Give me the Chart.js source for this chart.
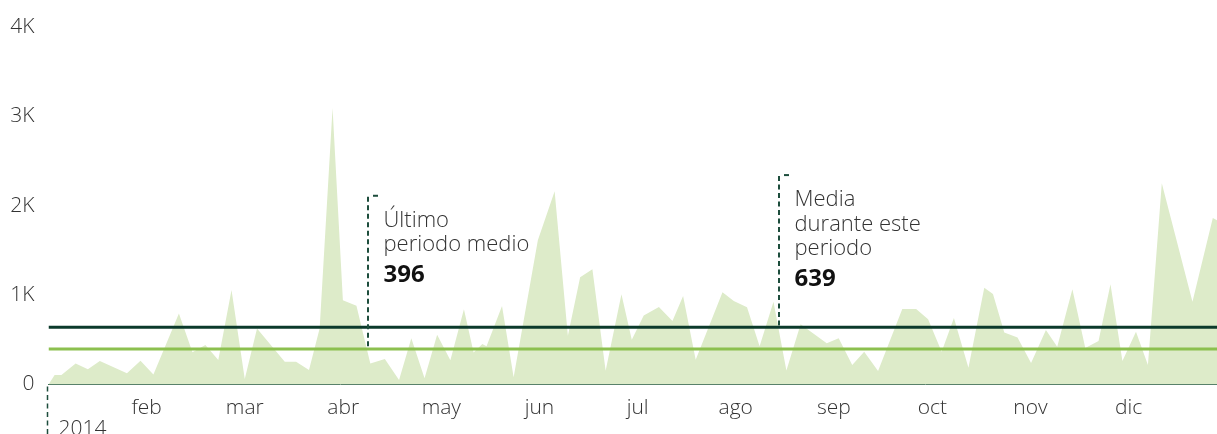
<!DOCTYPE html>
<html><head><meta charset="utf-8">
<script src="https://cdn.jsdelivr.net/npm/chart.js@4.4.1/dist/chart.umd.min.js"></script>
<style>html,body{margin:0;padding:0;background:#fff;overflow:hidden}canvas{display:block}</style>
</head><body>
<canvas id="c" width="1217" height="434"></canvas>
<script>
// ---- data (x = day of 2014, y = value) ----
const days = [0,1.9,4.0,8.4,12.2,15.9,24.3,28.5,32.5,40.4,44.6,48.6,52.6,56.7,60.8,64.6,73.2,76.7,80.7,84.0,88.0,91.2,95.4,99.7,104.2,108.6,112.4,116.5,120.4,124.5,128.7,131.7,134.4,135.7,140.5,144.1,151.6,156.8,160.9,164.7,168.5,172.6,177.5,180.7,184.4,189.1,193.3,196.6,200.5,208.8,212.3,216.4,220.3,224.6,228.6,233.0,241.1,244.8,249.0,252.7,257.0,264.5,268.8,272.5,276.7,280.5,285.0,289.9,292.6,296.1,300.2,304.4,309.0,312.5,317.2,321.2,325.3,329.0,332.7,336.9,340.6,344.9,354.4,360.7,364];
const values = [0,106,106,236,170,262,125,266,113,794,360,441,273,1055,61,627,255,255,162,627,3090,943,880,236,285,50,516,69,556,270,841,358,454,428,878,80,1613,2160,545,1200,1289,155,1008,500,772,865,711,988,277,1032,933,863,428,924,156,673,462,518,217,366,152,844,844,730,365,742,186,1080,1012,580,524,240,608,422,1064,408,485,1120,264,590,218,2250,924,1860,1800];
const monthLabels = ['feb','mar','abr','may','jun','jul','ago','sep','oct','nov','dic'];
const monthDays = [30.4,60.8,91.3,121.7,152.1,182.5,212.9,243.3,273.8,304.2,334.6];
const yTickValues = [0,1000,2000,3000,4000];
const yTickLabels = ['0','1K','2K','3K','4K'];
const periodAverage = 639;
const previousAverage = 396;
const yearLabel = '2014';
const annotDays = [99.0, 226.4];
const annotValues = [396, 639];
const annotTops = [2115, 2346];
const annotTexts = [['Último','periodo medio'], ['Media','durante este','periodo']];
const annotNumbers = ['396', '639'];

const X_MAX = 362.0;
const DARK = '#0b3a2b';
const LIGHT = '#8cc04f';
const FILL = '#ddebc9';
const DASH = '#1d4d3c';
const FONT = '"Open Sans", "Noto Sans", sans-serif';

const annotPlugin = {
  id: 'annot',
  afterDraw(chart) {
    const ctx = chart.ctx, xs = chart.scales.x, ys = chart.scales.y;
    ctx.save();
    annotDays.forEach((d, i) => {
      const x = Math.round(xs.getPixelForValue(d));
      const top = ys.getPixelForValue(annotTops[i]);
      const bottom = ys.getPixelForValue(annotValues[i]);
      ctx.strokeStyle = DASH; ctx.lineWidth = 2;
      ctx.setLineDash([5, 3.5]);
      ctx.beginPath(); ctx.moveTo(x, top + 1.5); ctx.lineTo(x, bottom); ctx.stroke();
      ctx.setLineDash([]);
      ctx.fillStyle = DASH;
      ctx.fillRect(x + 5, top - 0.5, 5, 2);
      ctx.textAlign = 'left'; ctx.textBaseline = 'alphabetic';
      ctx.fillStyle = '#333';
      ctx.font = '300 22px ' + FONT;
      const lines = annotTexts[i];
      lines.forEach((t, j) => ctx.fillText(t, x + 15.5, top + 31.5 + 24.5 * j));
      ctx.fillStyle = '#111';
      ctx.font = 'bold 24px ' + FONT;
      ctx.fillText(annotNumbers[i], x + 15.5, top + 31.5 + 24.5 * (lines.length - 1) + 30.5);
    });
    // year marker
    const x0 = Math.round(xs.getPixelForValue(0)) - 1.5;
    ctx.strokeStyle = DASH; ctx.lineWidth = 1.5;
    ctx.setLineDash([5, 3.5]);
    ctx.beginPath(); ctx.moveTo(x0, ys.getPixelForValue(0) + 2); ctx.lineTo(x0, chart.height); ctx.stroke();
    ctx.setLineDash([]);
    ctx.fillStyle = '#333';
    ctx.font = '300 21px ' + FONT;
    ctx.fillText(yearLabel, x0 + 11, 435);
    ctx.restore();
  }
};

new Chart(document.getElementById('c'), {
  type: 'line',
  data: {
    datasets: [
      { data: [{x: 0, y: periodAverage}, {x: X_MAX, y: periodAverage}], borderColor: DARK, borderWidth: 3, pointRadius: 0, fill: false, order: 1 },
      { data: [{x: 0, y: previousAverage}, {x: X_MAX, y: previousAverage}], borderColor: LIGHT, borderWidth: 3, pointRadius: 0, fill: false, order: 2 },
      { data: days.map((d, i) => ({x: d, y: values[i]})), borderColor: 'rgba(0,0,0,0)', borderWidth: 0, backgroundColor: FILL, pointRadius: 0, tension: 0, fill: 'origin', order: 3 }
    ]
  },
  options: {
    responsive: false, animation: false, devicePixelRatio: 1,
    layout: { padding: { top: 26, right: 0, bottom: 0, left: 0 } },
    plugins: { legend: { display: false }, tooltip: { enabled: false } },
    scales: {
      x: {
        type: 'linear', min: 0, max: X_MAX, z: 1,
        grid: { display: false, drawTicks: false },
        border: { display: true, color: '#45725d', width: 1 },
        afterBuildTicks: s => { s.ticks = monthDays.map(v => ({value: v})); },
        afterFit: s => { s.height = 49.5; },
        ticks: { autoSkip: false, maxRotation: 0, padding: 11, color: '#333',
          font: { family: FONT, size: 21, weight: 300 },
          callback: (v, i) => monthLabels[i] }
      },
      y: {
        min: 0, max: 4000,
        grid: { display: false, drawTicks: false },
        border: { display: false },
        afterBuildTicks: s => { s.ticks = yTickValues.map(v => ({value: v})); },
        afterFit: s => { s.width = 48.5; },
        ticks: { padding: 14, color: '#333',
          font: { family: FONT, size: 21, weight: 300 },
          callback: (v, i) => yTickLabels[i] }
      }
    }
  },
  plugins: [annotPlugin]
});
</script>
</body></html>
